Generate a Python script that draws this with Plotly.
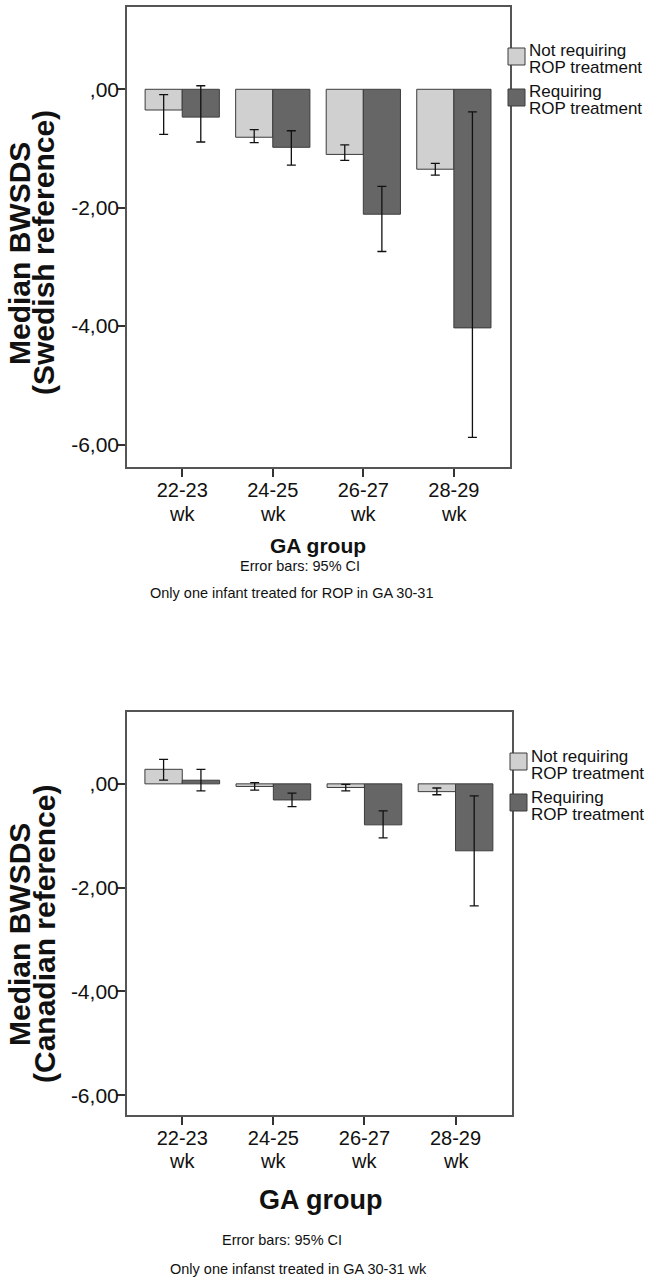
import plotly.graph_objects as go

# ---------------- data ----------------
categories = ["22-23 wk", "24-25 wk", "26-27 wk", "28-29 wk"]
tick_labels = ["22-23", "24-25", "26-27", "28-29"]
tick_unit = "wk"
series_names = ["Not requiring ROP treatment", "Requiring ROP treatment"]

# Swedish reference (top panel)
swe_not_req = [-0.35, -0.81, -1.10, -1.35]
swe_not_req_lo = [-0.76, -0.90, -1.20, -1.45]
swe_not_req_hi = [-0.09, -0.68, -0.94, -1.25]
swe_req = [-0.47, -0.98, -2.11, -4.03]
swe_req_lo = [-0.89, -1.28, -2.74, -5.88]
swe_req_hi = [0.06, -0.70, -1.64, -0.38]

# Canadian reference (bottom panel)
can_not_req = [0.28, -0.05, -0.07, -0.15]
can_not_req_lo = [0.07, -0.12, -0.135, -0.21]
can_not_req_hi = [0.47, 0.025, -0.01, -0.08]
can_req = [0.07, -0.31, -0.79, -1.29]
can_req_lo = [-0.135, -0.44, -1.04, -2.35]
can_req_hi = [0.28, -0.18, -0.52, -0.23]

y_tickvals = [0, -2, -4, -6]
y_ticktext = [",00", "-2,00", "-4,00", "-6,00"]

# ---------------- style ----------------
W, H = 652, 1283
FONT = "Arial, 'Liberation Sans', Helvetica, sans-serif"
LIGHT = "#d0d0d0"
DARK = "#666666"
EDGE = "#3c3c3c"
FRAME = "#555555"


def px(x):
    return x / W


def py(y):
    return 1 - y / H


fig = go.Figure()


def add_pair(vals1, lo1, hi1, vals2, lo2, hi2, xa, ya):
    for vals, lo, hi, col, name in [
        (vals1, lo1, hi1, LIGHT, series_names[0]),
        (vals2, lo2, hi2, DARK, series_names[1]),
    ]:
        fig.add_trace(go.Bar(
            x=categories, y=vals, name=name, xaxis=xa, yaxis=ya,
            marker=dict(color=col, line=dict(color=EDGE, width=1)),
            error_y=dict(type="data", symmetric=False,
                         array=[h - v for h, v in zip(hi, vals)],
                         arrayminus=[v - l for v, l in zip(vals, lo)],
                         color="#111111", thickness=1.3, width=4.5),
            showlegend=False,
        ))


add_pair(swe_not_req, swe_not_req_lo, swe_not_req_hi,
         swe_req, swe_req_lo, swe_req_hi, "x", "y")
add_pair(can_not_req, can_not_req_lo, can_not_req_hi,
         can_req, can_req_lo, can_req_hi, "x2", "y2")

xcommon = dict(type="category", range=[-0.61, 3.62], tickmode="array",
               tickvals=categories, ticktext=tick_labels,
               showline=True, mirror=True, linecolor=FRAME, linewidth=1.5,
               ticks="outside", ticklen=8, tickwidth=1.5, tickcolor="#333333",
               ticklabelstandoff=-4,
               tickfont=dict(family=FONT, size=20, color="#111111"),
               showgrid=False, zeroline=False, fixedrange=True)
ycommon = dict(range=[-6.38, 1.39], tickmode="array",
               tickvals=y_tickvals, ticktext=y_ticktext,
               showline=True, mirror=True, linecolor=FRAME, linewidth=1.5,
               ticks="outside", ticklen=8, tickwidth=1.5, tickcolor="#333333",
               ticklabelstandoff=-6,
               tickfont=dict(family=FONT, size=21, color="#111111"),
               showgrid=False, zeroline=False, fixedrange=True)

fig.update_layout(
    width=W, height=H,
    margin=dict(l=0, r=0, t=0, b=0),
    paper_bgcolor="white", plot_bgcolor="white",
    barmode="group", bargap=0.18, bargroupgap=0,
    showlegend=False,
    xaxis=dict(domain=[px(127), px(510)], anchor="y", **xcommon),
    yaxis=dict(domain=[py(467), py(7)], anchor="x", **ycommon),
    xaxis2=dict(domain=[px(126.7), px(512)], anchor="y2", **xcommon),
    yaxis2=dict(domain=[py(1115), py(711.7)], anchor="x2", **ycommon),
)

annotations = []
shapes = []


def text(x, y, s, size, angle=0, xanchor="center"):
    annotations.append(dict(
        x=px(x), y=py(y), xref="paper", yref="paper", text=s,
        showarrow=False, textangle=angle, xanchor=xanchor, yanchor="middle",
        font=dict(family=FONT, size=size, color="#111111"),
    ))


# second line of the category labels ("wk"), placed under each category
for xa, ywk in [("x", 514), ("x2", 1161)]:
    for c in categories:
        annotations.append(dict(
            x=c, y=py(ywk), xref=xa, yref="paper", text=tick_unit,
            showarrow=False, xanchor="center", yanchor="middle",
            font=dict(family=FONT, size=20, color="#111111"),
        ))

# y-axis titles (one annotation per line)
text(19, 254, "<b>Median BWSDS</b>", 30, angle=-90)
text(44, 253, "<b>(Swedish reference)</b>", 30, angle=-90)
text(19, 935, "<b>Median BWSDS</b>", 30, angle=-90)
text(44, 934, "<b>(Canadian reference)</b>", 30, angle=-90)

# x-axis titles
text(318, 545, "<b>GA group</b>", 21)
text(320, 1200, "<b>GA group</b>", 27)

# footnotes
text(300, 566, "Error bars: 95% CI", 14.5)
text(291, 593, "Only one infant treated for ROP in GA 30-31", 14.5)
text(282, 1240, "Error bars: 95% CI", 14.5)
text(298, 1269, "Only one infanst treated in GA 30-31 wk", 14.5)


# legends (manual, drawn at panel right edge)
def legend(x0, top):
    items = [(LIGHT, ["Not requiring", "ROP treatment"]),
             (DARK, ["Requiring", "ROP treatment"])]
    for i, (col, lines) in enumerate(items):
        t = top + i * 41
        shapes.append(dict(type="rect", xref="paper", yref="paper",
                           x0=px(x0), x1=px(x0 + 17), y0=py(t + 17), y1=py(t),
                           fillcolor=col, line=dict(color=EDGE, width=1)))
        for j, ln in enumerate(lines):
            text(x0 + 19, t + 3 + j * 17, ln, 17, xanchor="left")


legend(508, 48)
legend(510, 753)

fig.update_layout(annotations=annotations, shapes=shapes)
fig.write_html(
    "out.html",
    config={"displayModeBar": False},
    post_script="document.body.style.margin='0';document.body.style.padding='0';"
                "document.body.style.overflow='hidden';",
)
